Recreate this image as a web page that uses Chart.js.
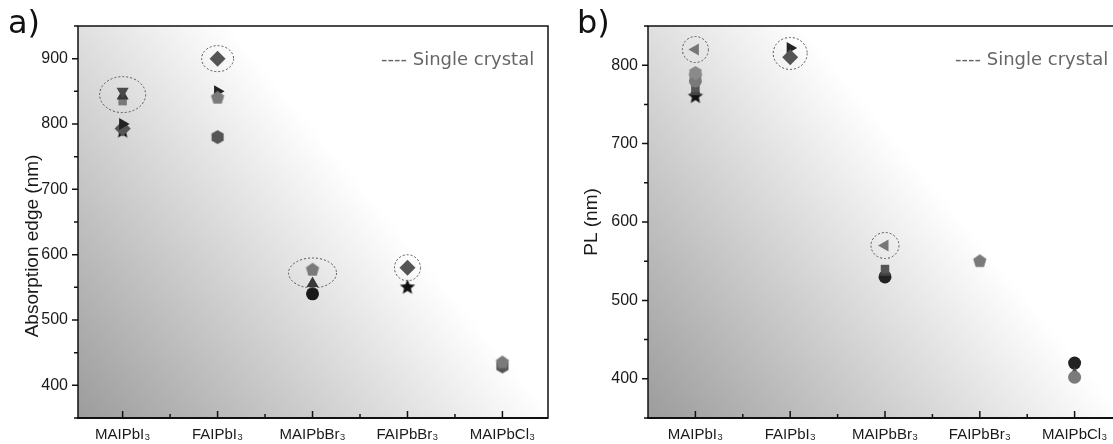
<!DOCTYPE html>
<html>
<head>
<meta charset="utf-8">
<script src="https://cdn.jsdelivr.net/npm/chart.js@4.4.1/dist/chart.umd.min.js"></script>
<style>
  html, body { margin: 0; padding: 0; background: #fff; overflow: hidden; }
  #wrap { position: relative; width: 1113px; height: 444px; overflow: hidden; }
  canvas { position: absolute; top: 0; }
  .lbl { position: absolute; font-family: "DejaVu Sans", Verdana, sans-serif; line-height: 1; white-space: nowrap; }
  .panel { font-size: 32px; color: #111; }
  .note { font-size: 18px; color: #666; }
</style>
</head>
<body>
<div id="wrap">
  <canvas id="absChart" width="556" height="444" style="left:0px"></canvas>
  <canvas id="plChart" width="570" height="444" style="left:560px"></canvas>
  <div class="lbl panel" style="left:8px;top:6px">a)</div>
  <div class="lbl panel" style="left:577px;top:6px">b)</div>
  <div class="lbl note" style="left:381px;top:50px">---- Single crystal</div>
  <div class="lbl note" style="left:955px;top:50px">---- Single crystal</div>
</div>
<script>
const categories = ['MAIPbI₃', 'FAIPbI₃', 'MAIPbBr₃', 'FAIPbBr₃', 'MAIPbCl₃'];
const absTicks = [400, 500, 600, 700, 800, 900];
const plTicks = [400, 500, 600, 700, 800];

// a) absorption edge (nm), one value per category, null = no point
const absTriDown  = [850, null, null, null, null];
const absTriUp    = [843, null, 556, null, null];
const absSquare   = [835, null, 575, null, null];
const absTriRight = [800, 850, null, null, null];
const absDiamond  = [793, 900, null, 580, null];
const absStar     = [789, null, null, 550, null];
const absPentagon = [null, 840, 577, null, 435];
const absHexagon  = [null, 780, null, null, 429];
const absCircle   = [null, null, 540, null, null];

// b) PL (nm)
const plTriLeft    = [820, null, 570, null, null];
const plTriRight   = [null, 822, null, null, null];
const plDiamond    = [null, 810, null, null, null];
const plHexagon    = [790, null, null, null, null];
const plPentagon   = [786, null, null, 550, null];
const plCircleGray = [780, null, null, null, 402];
const plSquare     = [771, null, 540, null, null];
const plTriUp      = [766, null, 536, null, 406];
const plStar       = [760, null, null, null, null];
const plCircle     = [null, null, 530, null, 420];

// single crystal points (circled), category index + value
const absSingleCat = [1, 2, 3, 4];
const absSingleVal = [845, 900, 572, 580];
const plSingleCat = [1, 2, 3];
const plSingleVal = [820, 815, 570];

function toPoints(arr) {
  return arr.map((v, i) => v == null ? null : {x: i + 1, y: v}).filter(p => p);
}

function polyImg(n, r, color, inner) {
  const c = document.createElement('canvas');
  const s = Math.ceil(r * 2 + 2);
  c.width = s; c.height = s;
  const g = c.getContext('2d');
  g.fillStyle = color;
  g.beginPath();
  const pts = inner ? n * 2 : n;
  for (let i = 0; i < pts; i++) {
    const rr = inner && i % 2 ? r * inner : r;
    const a = -Math.PI / 2 + i * Math.PI * 2 / pts;
    const px = s / 2 + rr * Math.cos(a), py = s / 2 + rr * Math.sin(a);
    if (i) g.lineTo(px, py); else g.moveTo(px, py);
  }
  g.closePath();
  g.fill();
  return c;
}

function ds(arr, style, color, rot, radius) {
  return {
    data: toPoints(arr),
    pointStyle: style,
    rotation: rot || 0,
    pointRadius: radius || 7,
    backgroundColor: color,
    borderColor: color,
    borderWidth: 0
  };
}

const bgGradient = {
  id: 'bgGradient',
  beforeDatasetsDraw(chart) {
    const {ctx, chartArea: a} = chart;
    const g = ctx.createLinearGradient(a.left, a.bottom, a.right, a.top);
    g.addColorStop(0, '#9c9c9c');
    g.addColorStop(0.6, '#ffffff');
    g.addColorStop(1, '#ffffff');
    ctx.save();
    ctx.fillStyle = g;
    ctx.fillRect(a.left, a.top, a.right - a.left, a.bottom - a.top);
    ctx.restore();
  }
};

const frame = {
  id: 'frame',
  afterDraw(chart, args, o) {
    const {ctx, chartArea: a, scales: {x, y}} = chart;
    ctx.save();
    ctx.strokeStyle = '#111';
    ctx.lineWidth = 1.5;
    ctx.strokeRect(a.left, a.top, a.right - a.left, a.bottom - a.top);
    ctx.beginPath();
    for (let v = o.yMin; v <= o.yMax; v += 50) {
      const py = y.getPixelForValue(v);
      const len = v % 100 ? 4 : 6;
      ctx.moveTo(a.left - len, py);
      ctx.lineTo(a.left, py);
    }
    for (let v = 1; v <= 5.5; v += 0.5) {
      const px = x.getPixelForValue(v);
      if (px > a.right) continue;
      const len = v % 1 ? 4 : 7;
      ctx.moveTo(px, a.bottom);
      ctx.lineTo(px, a.bottom - len);
    }
    ctx.stroke();
    ctx.lineWidth = 2;
    ctx.beginPath();
    ctx.moveTo(a.left - 1, a.bottom);
    ctx.lineTo(a.right, a.bottom);
    ctx.stroke();
    // y axis title
    ctx.fillStyle = '#1a1a1a';
    ctx.font = '19px "Liberation Sans", Arial, sans-serif';
    ctx.textAlign = 'center';
    ctx.textBaseline = 'middle';
    ctx.translate(o.titleX, o.titleY);
    ctx.rotate(-Math.PI / 2);
    ctx.fillText(o.title, 0, 0);
    ctx.restore();
  }
};

const rings = {
  id: 'rings',
  afterDatasetsDraw(chart, args, o) {
    const {ctx, scales: {x, y}} = chart;
    ctx.save();
    ctx.strokeStyle = '#555';
    ctx.lineWidth = 1;
    ctx.setLineDash([2, 2]);
    o.cats.forEach((c, i) => {
      const [rx, ry] = o.sizes[i];
      ctx.beginPath();
      ctx.ellipse(x.getPixelForValue(c), y.getPixelForValue(o.vals[i]), rx, ry, 0, 0, Math.PI * 2);
      ctx.stroke();
    });
    ctx.restore();
  }
};

function makeOptions(xMin, xMax, yMin, yMax, yTicks, yWidth, padRight, title, titleX, titleY, ringOpts) {
  const tickFont = {family: '"Liberation Sans", Arial, sans-serif', size: 16};
  return {
    responsive: false,
    animation: false,
    events: [],
    layout: {padding: {top: 26, right: padRight, left: 0, bottom: 0}},
    plugins: {
      legend: {display: false},
      tooltip: {enabled: false},
      frame: {yMin: yMin, yMax: yMax, title: title, titleX: titleX, titleY: titleY},
      rings: ringOpts
    },
    scales: {
      x: {
        type: 'linear', min: xMin, max: xMax,
        grid: {display: false, drawTicks: false},
        border: {display: false},
        afterBuildTicks: s => { s.ticks = [1, 2, 3, 4, 5].map(v => ({value: v})); },
        afterFit: s => { s.height = 26; },
        ticks: {
          padding: 8, color: '#1a1a1a', maxRotation: 0, autoSkip: false,
          font: {family: '"Liberation Sans", Arial, sans-serif', size: 15},
          callback: v => categories[v - 1] || ''
        }
      },
      y: {
        type: 'linear', min: yMin, max: yMax,
        grid: {display: false, drawTicks: false},
        border: {display: false},
        afterBuildTicks: s => { s.ticks = yTicks.map(v => ({value: v})); },
        afterFit: s => { s.width = yWidth; },
        ticks: {padding: 10, color: '#1a1a1a', font: tickFont}
      }
    }
  };
}

const tri = 'triangle';
const star = polyImg(5, 8, '#111', 0.45);
const pentA = polyImg(5, 7, '#7a7a7a');
const hexA = polyImg(6, 7, '#555');
const hexB = polyImg(6, 7, '#8a8a8a');
const pentB = polyImg(5, 7, '#7a7a7a');

new Chart(document.getElementById('absChart'), {
  type: 'scatter',
  data: {
    datasets: [
      ds(absTriDown, tri, '#4a4a4a', 180),
      ds(absTriUp, tri, '#3a3a3a'),
      ds(absSquare, 'rect', '#7a7a7a', 0, 6),
      ds(absPentagon, pentA, '#7a7a7a'),
      ds(absHexagon, hexA, '#555'),
      ds(absTriRight, tri, '#222', 90),
      ds(absDiamond, 'rectRot', '#555', 0, 8),
      ds(absCircle, 'circle', '#1a1a1a', 0, 6.5),
      ds(absStar, star, '#111')
    ]
  },
  options: makeOptions(0.53, 5.48, 350, 950, absTicks, 78, 2, 'Absorption edge (nm)', 33, 246,
    {cats: absSingleCat, vals: absSingleVal, sizes: [[23, 18], [16, 13], [24, 15], [13, 13]]}),
  plugins: [bgGradient, frame, rings]
});

new Chart(document.getElementById('plChart'), {
  type: 'scatter',
  data: {
    datasets: [
      ds(plHexagon, hexB, '#8a8a8a'),
      ds(plPentagon, pentB, '#7a7a7a'),
      ds(plCircleGray, 'circle', '#7a7a7a', 0, 6.5),
      ds(plSquare, 'rect', '#555', 0, 6),
      ds(plTriUp, tri, '#444'),
      ds(plStar, star, '#111'),
      ds(plCircle, 'circle', '#222', 0, 6.5),
      ds(plTriLeft, tri, '#777', -90),
      ds(plDiamond, 'rectRot', '#555', 0, 8),
      ds(plTriRight, tri, '#222', 90)
    ]
  },
  options: makeOptions(0.5, 5.5, 350, 850, plTicks, 88, 5, 'PL (nm)', 32, 222,
    {cats: plSingleCat, vals: plSingleVal, sizes: [[13, 13], [17, 16], [14, 13]]}),
  plugins: [bgGradient, frame, rings]
});
</script>
</body>
</html>
